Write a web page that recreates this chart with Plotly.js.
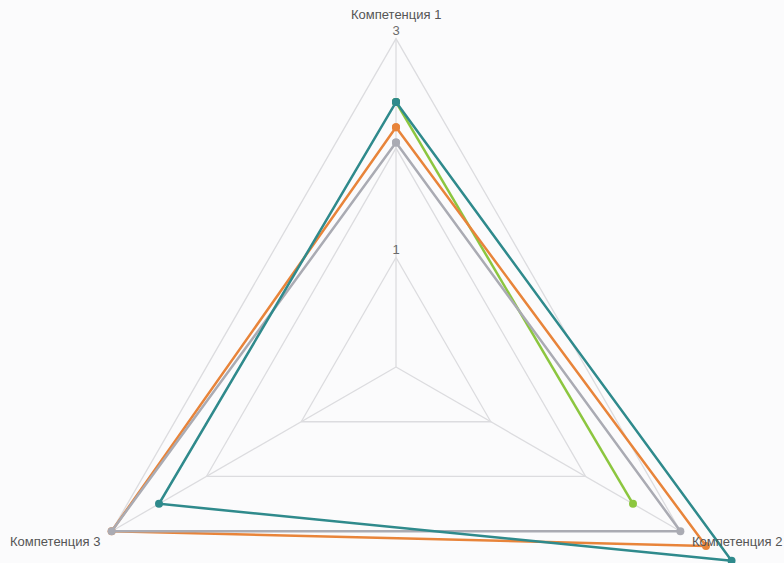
<!DOCTYPE html>
<html>
<head>
<meta charset="utf-8">
<script src="https://cdn.plot.ly/plotly-3.0.1.min.js"></script>
<style>
  html, body { margin: 0; padding: 0; width: 784px; height: 563px; overflow: hidden; background: #fbfbfc; }
  #chart { position: absolute; left: -9px; top: -38px; width: 810px; height: 810px; }
</style>
</head>
<body>
<div id="chart"></div>
<script>
// ---- data ----
const categories = ['Компетенция 1', 'Компетенция 2', 'Компетенция 3'];
const seriesGreen  = [2.42, 2.5, null];
const seriesGray   = [2.05, 3.0, 3.0];
const seriesOrange = [2.19, 3.27, 3.0];
const seriesTeal   = [2.42, 3.54, 2.5];
const gridValues = [1, 2, 3];
const tickLabels = ['1', '', '3'];
const axisMax = 3;
const radialMax = 3.7;

// ---- helpers ----
function closed(arr) { return arr.concat([arr[0]]); }

const spokeR = [], spokeT = [];
categories.forEach(function (c) { spokeR.push(0, axisMax, null); spokeT.push(c, c, c); });

const traces = [
  { type: 'scatterpolar', mode: 'lines', r: spokeR, theta: spokeT,
    line: { color: '#dcdcdf', width: 1.3 }, hoverinfo: 'skip', connectgaps: false, cliponaxis: false },
  { type: 'scatterpolar', mode: 'text', r: gridValues, theta: gridValues.map(function () { return categories[0]; }),
    text: tickLabels, textposition: 'top center',
    textfont: { family: 'Liberation Sans, Arial, sans-serif', size: 13, color: '#6b6b6b' }, hoverinfo: 'skip', cliponaxis: false },
  { type: 'scatterpolar', mode: 'lines+markers', name: 'Зелёный', r: closed(seriesGreen), theta: closed(categories),
    connectgaps: false, line: { color: '#8cc63f', width: 2.5 }, marker: { color: '#8cc63f', size: 8 }, cliponaxis: false },
  { type: 'scatterpolar', mode: 'lines+markers', name: 'Оранжевый', r: closed(seriesOrange), theta: closed(categories),
    line: { color: '#e8843a', width: 2.5 }, marker: { color: '#e8843a', size: 8 }, cliponaxis: false },
  { type: 'scatterpolar', mode: 'lines+markers', name: 'Серый', r: closed(seriesGray), theta: closed(categories),
    line: { color: '#aaabb3', width: 2.5 }, marker: { color: '#aaabb3', size: 8 }, cliponaxis: false },
  { type: 'scatterpolar', mode: 'lines+markers', name: 'Бирюзовый', r: closed(seriesTeal), theta: closed(categories),
    line: { color: '#2f8a8c', width: 2.5 }, marker: { color: '#2f8a8c', size: 8 }, cliponaxis: false }
];

const labelFont = { family: 'Liberation Sans, Arial, sans-serif', size: 13, color: '#555555' };

// paper coords for the 810px figure placed at (-9,-38)
const layout = {
  width: 810, height: 810,
  margin: { l: 0, r: 0, t: 0, b: 0, pad: 0 },
  paper_bgcolor: '#fbfbfc',
  showlegend: false,
  polar: {
    domain: { x: [0, 1], y: [0, 1] },
    bgcolor: 'rgba(0,0,0,0)',
    gridshape: 'linear',
    radialaxis: {
      range: [0, radialMax], tickvals: gridValues, showticklabels: false, ticks: '',
      showline: false, showgrid: true, gridcolor: '#dcdcdf', gridwidth: 1.3, layer: 'below traces'
    },
    angularaxis: {
      type: 'category', categoryarray: categories, rotation: 90, direction: 'clockwise',
      showgrid: false, showline: false, showticklabels: false, ticks: ''
    }
  },
  annotations: [
    { text: categories[0], xref: 'paper', yref: 'paper', x: 0.5, y: 0.9355, xanchor: 'center', yanchor: 'middle', showarrow: false, font: labelFont },
    { text: categories[1], xref: 'paper', yref: 'paper', x: 0.8630, y: 0.2843, xanchor: 'left', yanchor: 'middle', showarrow: false, font: labelFont },
    { text: categories[2], xref: 'paper', yref: 'paper', x: 0.1370, y: 0.2843, xanchor: 'right', yanchor: 'middle', showarrow: false, font: labelFont }
  ]
};

Plotly.newPlot('chart', traces, layout, { displayModeBar: false, staticPlot: true });
</script>
</body>
</html>
